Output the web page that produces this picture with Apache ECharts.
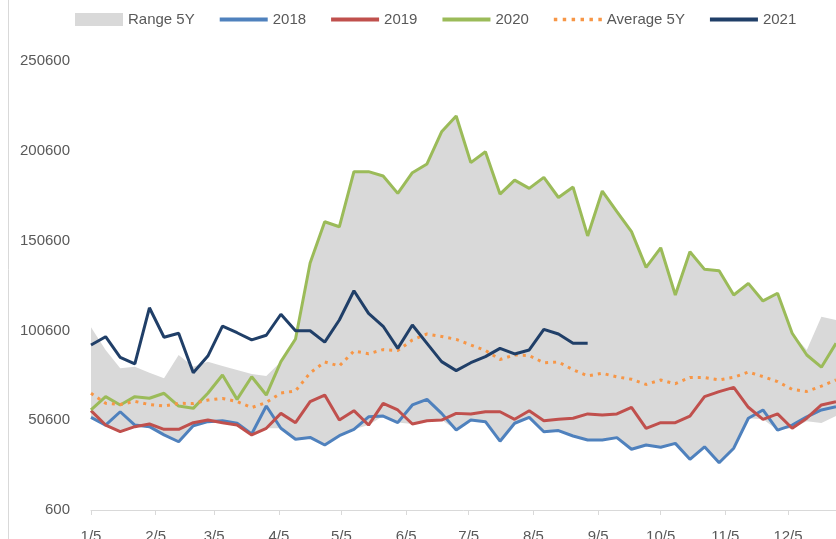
<!DOCTYPE html>
<html><head><meta charset="utf-8">
<script src="https://cdn.jsdelivr.net/npm/echarts@6/dist/echarts.min.js"></script>
<style>html,body{margin:0;padding:0;background:#fff}#c{width:836px;height:539px}</style>
</head><body><div id="c"></div>
<script>
// Weekly categories (month/day)
const weeks = ['1/5','1/12','1/19','1/26','2/2','2/9','2/16','2/23','3/2','3/9','3/16','3/23','3/30',
  '4/6','4/13','4/20','4/27','5/4','5/11','5/18','5/25','6/1','6/8','6/15','6/22','6/29',
  '7/6','7/13','7/20','7/27','8/3','8/10','8/17','8/24','8/31','9/7','9/14','9/21','9/28',
  '10/5','10/12','10/19','10/26','11/2','11/9','11/16','11/23','11/30','12/7','12/14','12/21','12/28'];
const monthTicks = ['1/5','2/5','3/5','4/5','5/5','6/5','7/5','8/5','9/5','10/5','11/5','12/5'];
const yTicks = [600, 50600, 100600, 150600, 200600, 250600];

const rangeHigh = [102300,89700,79500,80400,77000,73900,86900,80400,83200,80800,
  78600,76300,75200,83200,95800,138100,161100,158300,189000,189000,
  186600,176900,188400,193300,211200,220000,194000,200100,176500,184300,
  179700,185800,174600,180400,153200,178200,166700,155600,135700,146600,
  120300,144400,134600,133800,120300,126800,117000,121300,99000,89700,
  108200,106400];
const rangeLow = [52200,47900,44200,47000,47000,42400,38600,47500,49800,49200,
  47900,42400,46100,46100,40000,41000,36800,42000,45500,47900,
  52900,49300,48500,50300,50700,45100,50700,49800,38900,48900,
  52200,44200,44800,41800,39600,39600,40900,34400,36800,35500,
  37700,28800,35800,26900,35000,51700,51100,45100,46100,50000,
  49000,53000];
const s2018 = [52200,47900,55300,47900,47000,42400,38600,47500,49800,50300,
  48900,42900,58500,46100,40000,41000,36800,42000,45500,52500,
  52900,49300,59100,62200,54400,45100,50700,49800,38900,48900,
  52200,44200,44800,41800,39600,39600,40900,34400,36800,35500,
  37700,28800,35800,26900,35000,51700,56300,45100,47900,52500,
  56300,58100];
const s2019 = [55900,47900,44200,47000,48500,45500,45500,49200,50700,49200,
  47900,42400,46100,54400,49200,60900,64600,50700,55900,47900,
  60000,56300,48500,50300,50700,54400,54100,55300,55300,51100,
  55900,50300,51100,51700,54100,53500,54100,57800,46100,49200,
  49200,52900,63700,66500,68900,57800,51100,54100,46100,51700,
  59100,60900];
const s2020 = [56300,63700,59100,63700,62800,65600,58500,57200,65600,75800,
  62200,74800,64600,83200,95800,138100,161100,158300,189000,189000,
  186600,176900,188400,193300,211200,220000,194000,200100,176500,184300,
  179700,185800,174600,180400,153200,178200,166700,155600,135700,146600,
  120300,144400,134600,133800,120300,126800,117000,121300,99000,86900,
  80100,93400];
const avg5 = [65600,60000,59300,61100,59300,58500,60000,59900,61800,62700,
  61000,57600,60500,65700,66900,76900,83000,80800,89100,87600,
  89900,89400,95300,98600,97200,95600,92500,89400,84400,86900,
  86600,82600,83000,78700,75300,76700,74700,73400,70500,73000,
  70900,74400,74400,73000,74500,77400,74900,72100,67800,66600,
  69600,73000];
const s2021 = [92500,97100,85600,81900,113200,96800,99000,77000,86300,103000,
  99300,95300,97900,109600,100400,100400,94100,106400,122700,110100,
  102900,90600,103600,93400,83200,78200,82600,86000,90600,87500,
  89700,101200,98600,93400,93400];

function dayOf(md){ const p = md.split('/').map(Number); return (Date.UTC(2021,p[0]-1,p[1]) - Date.UTC(2021,0,5)) / 864e5; }
const xs = weeks.map(dayOf);
const tickDays = monthTicks.map(dayOf);
const pair = arr => arr.map((v,i) => [xs[i], v]);

const font = 'Liberation Sans, Arial, sans-serif';
const solidIcon = 'path://M0,0H49V4H0Z';
const dottedIcon = 'path://M0,0H3.5V3.5H0Z M9,0H12.5V3.5H9Z M18,0H21.5V3.5H18Z M27,0H30.5V3.5H27Z M36,0H39.5V3.5H36Z M45,0H48.5V3.5H45Z';
const chart = echarts.init(document.getElementById('c'), null, {renderer:'canvas'});
const lineSeries = (name, data, color, extra) => Object.assign({
  name, type:'line', data: pair(data), symbol:'none', showSymbol:false, smooth:false,
  lineStyle:{color, width:3}, itemStyle:{color}, emphasis:{disabled:true}, z:3
}, extra || {});

chart.setOption({
  animation:false,
  backgroundColor:'#ffffff',
  graphic:[{type:'line', shape:{x1:8.5,y1:0,x2:8.5,y2:539}, style:{stroke:'#d9d9d9', lineWidth:1}, silent:true}],
  legend:{
    left:75, top:12, padding:0, itemWidth:48, itemHeight:13, itemGap:25,
    textStyle:{fontFamily:font, fontSize:15, color:'#595959'},
    data:[{name:'Range 5Y', icon:'rect'}, {name:'2018', icon:solidIcon}, {name:'2019', icon:solidIcon},
      {name:'2020', icon:solidIcon}, {name:'Average 5Y', icon:dottedIcon}, {name:'2021', icon:solidIcon}],
    selectedMode:false
  },
  grid:{left:91, right:0, top:61, bottom:29, containLabel:false, outerBoundsMode:'none'},
  xAxis:{
    type:'value', min:0, max:357,
    splitLine:{show:false},
    axisLine:{show:true, lineStyle:{color:'#d9d9d9', width:1}},
    axisTick:{show:true, length:5, customValues:tickDays, lineStyle:{color:'#d9d9d9'}},
    axisLabel:{customValues:tickDays, margin:19, fontFamily:font, fontSize:15, color:'#595959',
      formatter: v => { const k = tickDays.indexOf(v); return k >= 0 ? monthTicks[k] : ''; }}
  },
  yAxis:{
    type:'value', min:600, max:250600, interval:50000,
    splitLine:{show:false}, axisLine:{show:false}, axisTick:{show:false},
    axisLabel:{customValues:yTicks, margin:21, fontFamily:font, fontSize:15, color:'#595959',
      formatter: v => String(v)}
  },
  series:[
    {
      name:'Range 5Y', type:'custom', silent:true, z:1,
      itemStyle:{color:'#d9d9d9'},
      data:[[xs[0], rangeHigh[0]]],
      renderItem:(params, api) => {
        const pts = [];
        for (let i = 0; i < xs.length; i++) pts.push(api.coord([xs[i], rangeHigh[i]]));
        for (let i = xs.length - 1; i >= 0; i--) pts.push(api.coord([xs[i], rangeLow[i]]));
        return {type:'polygon', shape:{points:pts}, style:{fill:'#d9d9d9'}};
      }
    },
    lineSeries('2018', s2018, '#4F81BD'),
    lineSeries('2019', s2019, '#C0504D'),
    lineSeries('2020', s2020, '#9BBB59'),
    lineSeries('Average 5Y', avg5, '#F79646', {lineStyle:{color:'#F79646', width:3, type:[3,5]}}),
    lineSeries('2021', s2021, '#203F68', {z:4})
  ]
});
</script></body></html>
